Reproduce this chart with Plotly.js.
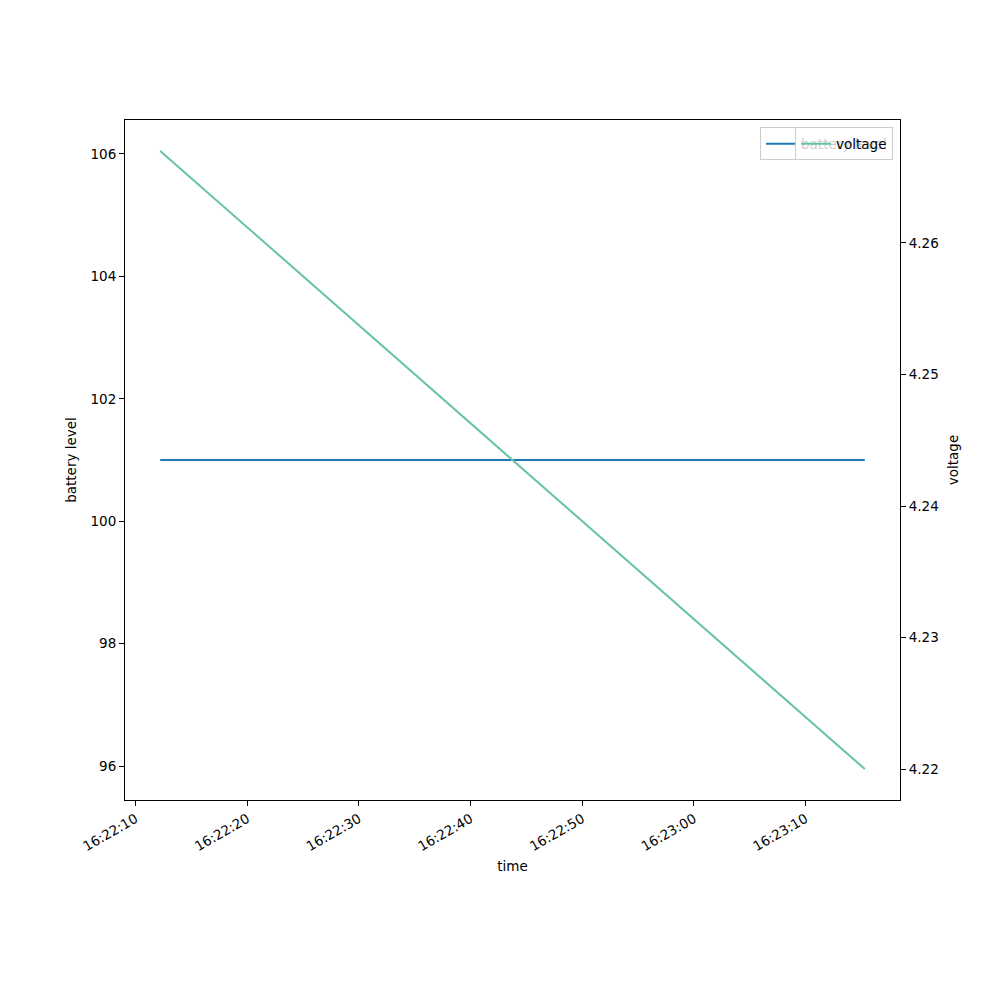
<!DOCTYPE html>
<html>
<head>
<meta charset="utf-8">
<script src="https://cdn.plot.ly/plotly-3.0.1.min.js"></script>
<style>body{margin:0;padding:0;background:#fff;} #chart{width:1000px;height:1000px;}</style>
</head>
<body>
<div id="chart"></div>
<script>
const times = ["2024-01-01 16:22:12.2", "2024-01-01 16:23:15.3"];
const batteryLevel = [101, 101];
const voltage = [4.267, 4.220];
const xTickVals = ["2024-01-01 16:22:10","2024-01-01 16:22:20","2024-01-01 16:22:30","2024-01-01 16:22:40","2024-01-01 16:22:50","2024-01-01 16:23:00","2024-01-01 16:23:10"];
const xTickText = ["16:22:10","16:22:20","16:22:30","16:22:40","16:22:50","16:23:00","16:23:10"];

const font = {family: "DejaVu Sans", size: 13.5, color: "#000"};

const traces = [
  {x: times, y: batteryLevel, type: "scatter", mode: "lines", name: "battery level",
   line: {color: "#1f77b4", width: 2}, yaxis: "y", legend: "legend"},
  {x: times, y: voltage, type: "scatter", mode: "lines", name: "voltage",
   line: {color: "#66c2a5", width: 2}, yaxis: "y2", legend: "legend2"}
];

const axBase = {showgrid: false, zeroline: false, showline: true, linecolor: "#000", linewidth: 1,
  ticks: "outside", ticklen: 5, tickcolor: "#000", tickfont: font, mirror: false};

const layout = {
  width: 1000, height: 1000,
  paper_bgcolor: "#fff", plot_bgcolor: "#fff",
  margin: {l: 125, r: 100, t: 120, b: 200},
  font: font,
  xaxis: Object.assign({}, axBase, {
    type: "date",
    range: ["2024-01-01 16:22:09.05", "2024-01-01 16:23:18.45"],
    tickvals: xTickVals, ticktext: xTickText, tickangle: -30,
    mirror: true,
    title: {text: "time", font: font, standoff: 8}
  }),
  yaxis: Object.assign({}, axBase, {
    range: [95.445, 106.555],
    tickvals: [96, 98, 100, 102, 104, 106],
    title: {text: "battery level", font: font, standoff: 10}
  }),
  yaxis2: Object.assign({}, axBase, {
    overlaying: "y", side: "right",
    range: [4.21765, 4.26935],
    tickvals: [4.22, 4.23, 4.24, 4.25, 4.26],
    ticktext: ["4.22", "4.23", "4.24", "4.25", "4.26"],
    title: {text: "voltage", font: font, standoff: 10}
  }),
  legend: {x: 0.991, y: 0.989, xanchor: "right", yanchor: "top",
    bgcolor: "rgba(255,255,255,0.8)", bordercolor: "#ccc", borderwidth: 1,
    font: font, itemwidth: 30, tracegroupgap: 0},
  legend2: {x: 0.991, y: 0.989, xanchor: "right", yanchor: "top",
    bgcolor: "rgba(255,255,255,0.8)", bordercolor: "#ccc", borderwidth: 1,
    font: font, itemwidth: 30, tracegroupgap: 0},
  showlegend: true
};

Plotly.newPlot("chart", traces, layout, {displayModeBar: false, staticPlot: true});
</script>
</body>
</html>
